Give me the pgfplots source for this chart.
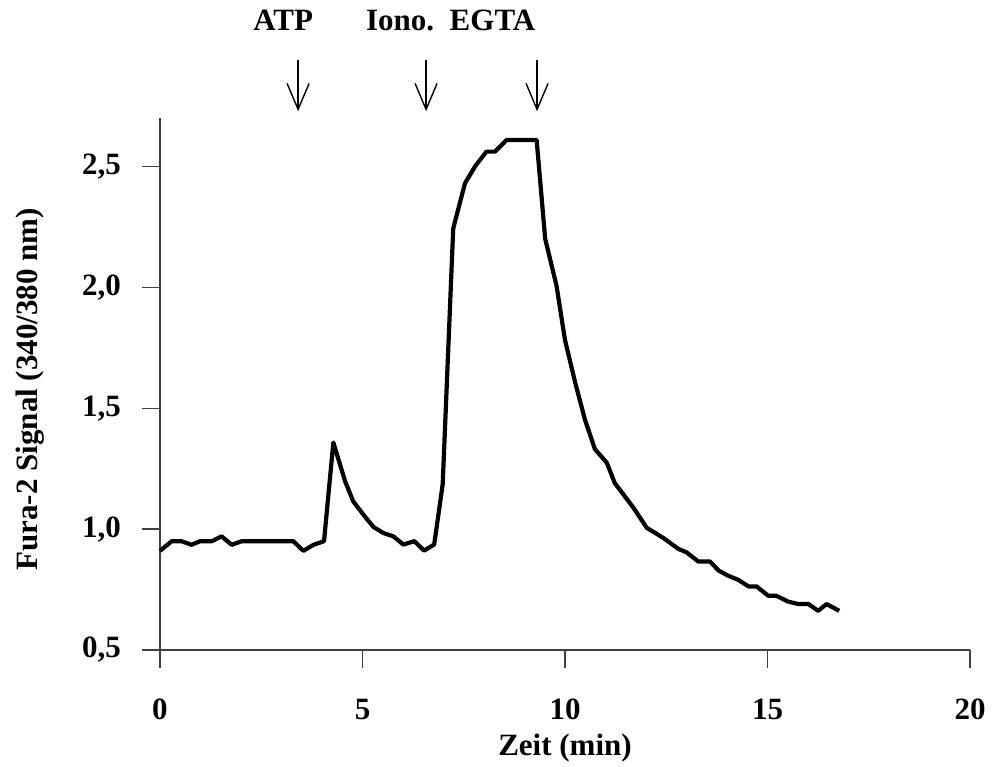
\documentclass[border=0pt]{standalone}
\usepackage{pgfplots}
\pgfplotsset{compat=1.18}
\usetikzlibrary{arrows.meta}
\usepackage{fontspec}
\setmainfont{Liberation Serif}
\newcommand{\lbl}{\fontsize{15.5}{18}\selectfont\bfseries}
\begin{document}
\begin{tikzpicture}
\begin{axis}[
  scale only axis,
  width=405pt, height=266pt,
  xmin=0, xmax=20, ymin=0.5, ymax=2.7,
  axis x line*=bottom, axis y line*=left,
  axis line style={black!75, line width=0.6pt},
  xtick={0,5,10,15,20}, ytick={0.5,1.0,1.5,2.0,2.5},
  tick align=outside, major tick length=9pt,
  tick style={black!75, line width=0.6pt},
  minor tick num=0,
  /pgf/number format/assume math mode=true,
  yticklabel style={/pgf/number format/fixed, /pgf/number format/fixed zerofill, /pgf/number format/precision=1, /pgf/number format/use comma, xshift=-7pt},
  ticklabel style={font=\lbl, black},
  xticklabel style={yshift=-12pt},
  xlabel={Zeit (min)}, ylabel={Fura-2 Signal (340/380 nm)},
  every axis x label/.style={at={(axis description cs:0.5,-0.184)}, anchor=center, font=\lbl},
  every axis y label/.style={at={(axis description cs:-0.16,0.49)}, rotate=90, anchor=center, font=\lbl},
  clip=false,
]
\addplot[black, line width=2.1pt, line join=round] coordinates {
(0,0.91) (0.29,0.95) (0.53,0.95) (0.78,0.935) (0.99,0.95) (1.28,0.95) (1.52,0.97) (1.77,0.935) (2.02,0.95) (3.29,0.95) (3.54,0.91) (3.79,0.935) (4.05,0.95) (4.28,1.358) (4.57,1.198) (4.77,1.115) (5.02,1.06) (5.27,1.009) (5.51,0.984) (5.76,0.97) (6.01,0.936) (6.28,0.95) (6.52,0.911) (6.77,0.936) (6.98,1.185) (7.24,2.243) (7.53,2.43) (7.78,2.50) (8.06,2.561) (8.27,2.561) (8.56,2.609) (9.30,2.609) (9.51,2.201) (9.79,2.007) (10.0,1.782) (10.25,1.607) (10.49,1.454) (10.74,1.330) (11.03,1.275) (11.23,1.19) (11.48,1.135) (11.69,1.088) (12.02,1.005) (12.25,0.982) (12.43,0.963) (12.62,0.94) (12.80,0.918) (13.0,0.904) (13.29,0.866) (13.58,0.866) (13.79,0.829) (14.03,0.807) (14.28,0.79) (14.53,0.763) (14.73,0.763) (15.02,0.724) (15.22,0.724) (15.51,0.70) (15.76,0.69) (16.01,0.69) (16.25,0.662) (16.46,0.69) (16.77,0.662)
};
\draw[black, line width=0.7pt, -{Straight Barb[length=13pt,width=11pt,line width=0.7pt]}] (axis cs:3.41,2.94) -- (axis cs:3.41,2.728);
\draw[black, line width=0.7pt, -{Straight Barb[length=13pt,width=11pt,line width=0.7pt]}] (axis cs:6.57,2.94) -- (axis cs:6.57,2.728);
\draw[black, line width=0.7pt, -{Straight Barb[length=13pt,width=11pt,line width=0.7pt]}] (axis cs:9.31,2.94) -- (axis cs:9.31,2.728);
\node[font=\lbl, anchor=base] at (axis cs:3.04,3.06) {ATP};
\node[font=\lbl, anchor=base] at (axis cs:5.93,3.06) {Iono.};
\node[font=\lbl, anchor=base] at (axis cs:8.21,3.06) {EGTA};
\end{axis}
\pgfresetboundingbox
\path[use as bounding box] (-80pt,-58pt) rectangle (417.5pt,325pt);
\end{tikzpicture}
\end{document}
